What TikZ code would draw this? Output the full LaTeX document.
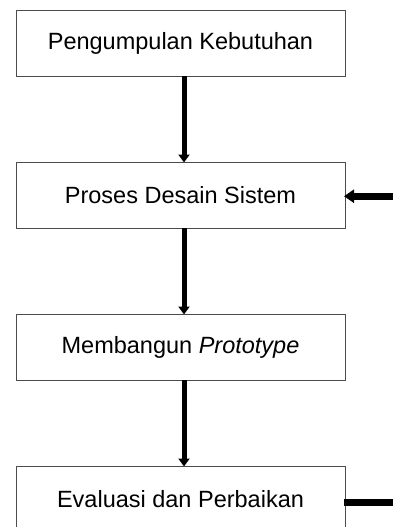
\documentclass[tikz,border=0pt]{standalone}
\usepackage{fontspec}
\setmainfont{Liberation Sans}
\usetikzlibrary{positioning,arrows.meta}
\begin{document}
\begin{tikzpicture}[node distance=86.5pt,
  		tahap/.style={draw=black!70, line width=1pt, minimum width=329pt,
  		  minimum height=65.5pt, inner sep=0pt, outer sep=0pt,
  		  font=\fontsize{23.5}{28}\selectfont},
  		alur/.style={line width=5pt, -{Triangle[width=11pt,length=8pt]}},
  		masuk/.style={line width=6.5pt, -{Triangle[width=13pt,length=10pt]}},
  		keluar/.style={line width=7pt}]
  		\useasboundingbox (0,0) rectangle (393pt,-527pt);
  		\node[tahap] (kebutuhan) at (180.5pt,-43.25pt) {Pengumpulan Kebutuhan};
  		\node[tahap, below=of kebutuhan] (desain) {Proses Desain Sistem};
  		\node[tahap, below=of desain] (prototipe) {Membangun \textit{Prototype}};
  		\node[tahap, below=of prototipe] (evaluasi) {Evaluasi dan Perbaikan};
  		\coordinate[right=50pt of desain.east] (balik);
  		\coordinate[right=50pt of evaluasi.east] (lanjut);
  		\draw[alur] ([xshift=3.5pt]kebutuhan.south) -- ([xshift=3.5pt]desain.north);
  		\draw[alur] ([xshift=3.5pt]desain.south) -- ([xshift=3.5pt]prototipe.north);
  		\draw[alur] ([xshift=3.5pt]prototipe.south) -- ([xshift=3.5pt]evaluasi.north);
  		\draw[masuk] ([yshift=-1pt]balik) -- ([xshift=-1pt,yshift=-1pt]desain.east);
  		\draw[keluar] ([xshift=-1pt,yshift=-3pt]evaluasi.east) -- ([yshift=-3pt]lanjut);
\end{tikzpicture}
\end{document}
